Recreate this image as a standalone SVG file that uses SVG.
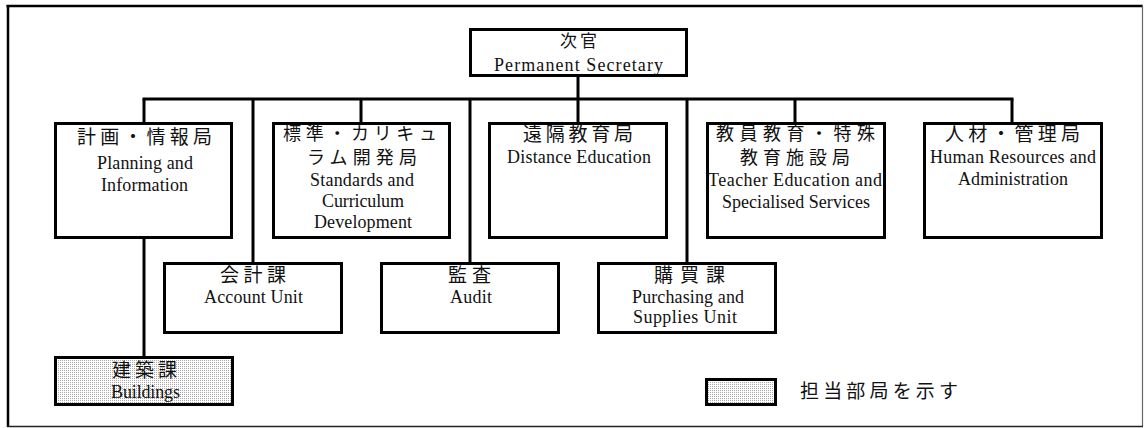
<svg xmlns="http://www.w3.org/2000/svg" width="1147" height="428" viewBox="0 0 1147 428">
<defs>
<pattern id="dots" width="2" height="2" patternUnits="userSpaceOnUse">
<rect width="2" height="2" fill="#ffffff"/>
<rect width="1" height="1" fill="#a8a8a8"/>
</pattern>
</defs>
<style>
.box{fill:#fff;stroke:#000;stroke-width:3}
.shade{fill:url(#dots);stroke:#000;stroke-width:3}
.jp{font-family:"Noto Sans CJK JP","Noto Sans",sans-serif;font-size:19px;fill:#111}
.jp2{font-size:18px}
.en{font-family:"Liberation Serif","Times New Roman",serif;font-size:18px;fill:#111}
.conn line{stroke:#000;stroke-width:3;fill:none}
</style>
<rect x="0" y="0" width="1147" height="428" fill="#fff"/>
<g id="frame">
<line x1="6.5" y1="6" x2="1143" y2="6" stroke="#000" stroke-width="2.5"/>
<line x1="8" y1="5" x2="8" y2="427" stroke="#000" stroke-width="2.5"/>
<line x1="1142.5" y1="5" x2="1142.5" y2="427" stroke="#666" stroke-width="1.2"/>
<line x1="7" y1="426.5" x2="1143" y2="426.5" stroke="#222" stroke-width="1.5"/>
</g>
<g id="connectors" class="conn">
<line x1="578" y1="77" x2="578" y2="122"/>
<line x1="142.5" y1="99" x2="1013.5" y2="99"/>
<line x1="144" y1="99" x2="144" y2="122"/>
<line x1="253" y1="99" x2="253" y2="262"/>
<line x1="361" y1="99" x2="361" y2="122"/>
<line x1="470" y1="99" x2="470" y2="262"/>
<line x1="687" y1="99" x2="687" y2="262"/>
<line x1="795" y1="99" x2="795" y2="122"/>
<line x1="1012" y1="99" x2="1012" y2="122"/>
<line x1="144" y1="239" x2="144" y2="356"/>
</g>
<g id="node-secretary">
<rect class="box" x="470.5" y="29.5" width="216" height="46"/>
<text class="jp" x="560" y="47" textLength="37" lengthAdjust="spacing" style="font-size:17px">次官</text>
<text class="en" x="494" y="71" textLength="169" lengthAdjust="spacing">Permanent Secretary</text>
</g>
<g id="node-planning">
<rect class="box" x="55.5" y="123.5" width="176" height="114"/>
<text class="jp" x="77" y="144" textLength="135" lengthAdjust="spacing">計画・情報局</text>
<text class="en" x="97" y="169" textLength="96" lengthAdjust="spacing">Planning and</text>
<text class="en" x="101" y="191" textLength="87" lengthAdjust="spacing">Information</text>
</g>
<g id="node-standards">
<rect class="box" x="273.5" y="123.5" width="176" height="114"/>
<text class="jp jp2" x="283" y="140" textLength="154" lengthAdjust="spacing">標準・カリキュ</text>
<text class="jp jp2" x="307" y="164" textLength="110" lengthAdjust="spacing">ラム開発局</text>
<text class="en" x="310" y="185.5" textLength="104" lengthAdjust="spacing">Standards and</text>
<text class="en" x="322" y="206.5" textLength="82" lengthAdjust="spacing">Curriculum</text>
<text class="en" x="314" y="227.5" textLength="98" lengthAdjust="spacing">Development</text>
</g>
<g id="node-distance">
<rect class="box" x="489.5" y="123.5" width="177" height="114"/>
<text class="jp" x="523" y="141" textLength="110" lengthAdjust="spacing">遠隔教育局</text>
<text class="en" x="507" y="163" textLength="144" lengthAdjust="spacing">Distance Education</text>
</g>
<g id="node-teacher">
<rect class="box" x="707.5" y="123.5" width="177" height="114"/>
<text class="jp jp2" x="716" y="140" textLength="159" lengthAdjust="spacing">教員教育・特殊</text>
<text class="jp jp2" x="740" y="164" textLength="110" lengthAdjust="spacing">教育施設局</text>
<text class="en" x="708" y="186" textLength="174" lengthAdjust="spacing">Teacher Education and</text>
<text class="en" x="722" y="207.5" textLength="148" lengthAdjust="spacing">Specialised Services</text>
</g>
<g id="node-hr">
<rect class="box" x="924.5" y="123.5" width="177" height="114"/>
<text class="jp" x="945" y="141" textLength="135" lengthAdjust="spacing">人材・管理局</text>
<text class="en" x="930" y="163" textLength="166" lengthAdjust="spacing">Human Resources and</text>
<text class="en" x="958" y="185" textLength="110" lengthAdjust="spacing">Administration</text>
</g>
<g id="node-account">
<rect class="box" x="164.5" y="263.5" width="177" height="69"/>
<text class="jp" x="220" y="281.5" textLength="66" lengthAdjust="spacing">会計課</text>
<text class="en" x="204" y="303" textLength="99" lengthAdjust="spacing">Account Unit</text>
</g>
<g id="node-audit">
<rect class="box" x="381.5" y="263.5" width="177" height="69"/>
<text class="jp" x="448" y="281.5" textLength="43" lengthAdjust="spacing">監査</text>
<text class="en" x="450" y="303" textLength="42" lengthAdjust="spacing">Audit</text>
</g>
<g id="node-purchasing">
<rect class="box" x="598.5" y="263.5" width="177" height="69"/>
<text class="jp" x="654" y="281.5" textLength="71" lengthAdjust="spacing">購買課</text>
<text class="en" x="632" y="303" textLength="112" lengthAdjust="spacing">Purchasing and</text>
<text class="en" x="633" y="323" textLength="104" lengthAdjust="spacing">Supplies Unit</text>
</g>
<g id="node-buildings">
<rect class="shade" x="55.5" y="357.5" width="177" height="47"/>
<text class="jp" x="112" y="376.5" textLength="65" lengthAdjust="spacing">建築課</text>
<text class="en" x="111" y="398" textLength="69" lengthAdjust="spacing">Buildings</text>
</g>
<g id="legend">
<rect class="shade" x="706.5" y="379.5" width="69" height="25"/>
<text class="jp" x="800" y="397.5" textLength="158" lengthAdjust="spacing" style="font-size:19px">担当部局を示す</text>
</g>
</svg>
